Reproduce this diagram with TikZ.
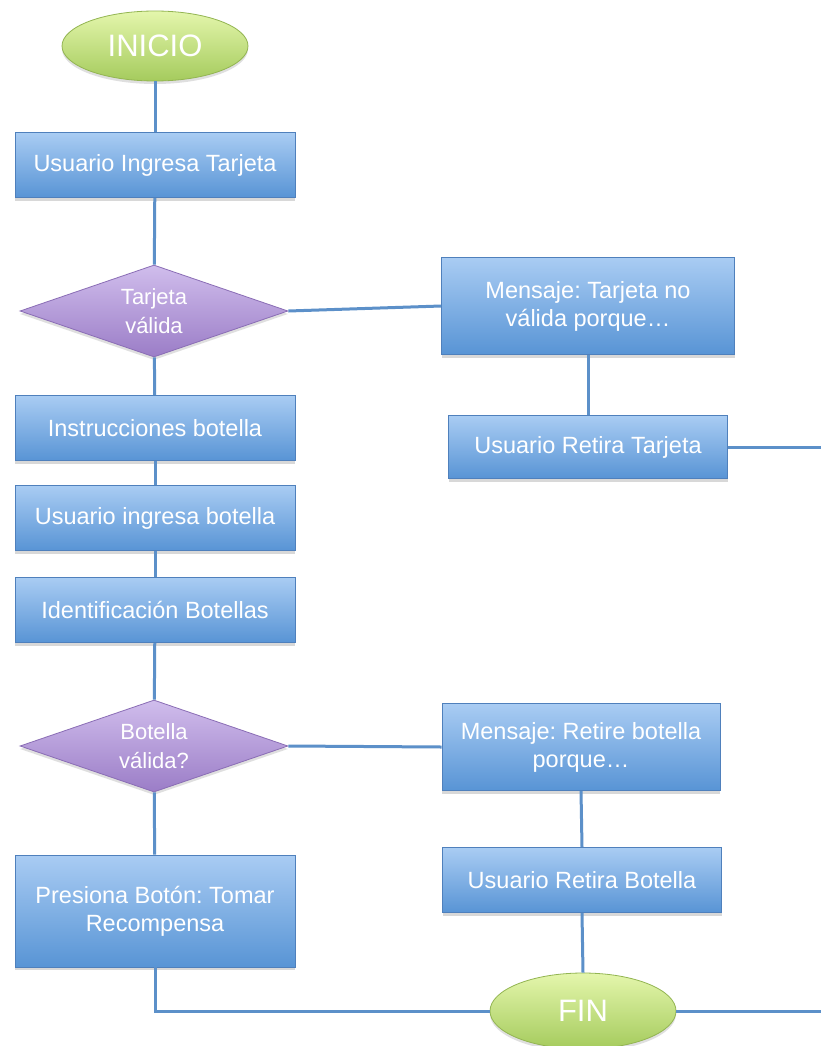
\documentclass[tikz,border=0pt]{standalone}
\usepackage{fontspec}
\setmainfont{Liberation Sans}
\usepackage{tikz}
\usetikzlibrary{shapes.geometric,shadows}
\usepackage{xcolor}
\definecolor{flowtop}{HTML}{A9CCF3}
\definecolor{flowbot}{HTML}{5894D5}
\definecolor{flowedge}{HTML}{4F80BC}
\definecolor{dectop}{HTML}{D0BDEC}
\definecolor{decbot}{HTML}{9B7DC7}
\definecolor{decedge}{HTML}{8A6DB5}
\definecolor{termtop}{HTML}{E4F6AC}
\definecolor{termbot}{HTML}{A5CB5D}
\definecolor{termedge}{HTML}{93B552}
\definecolor{linkblue}{HTML}{5C90C9}
\tikzset{
  flowbox/.style={
    rectangle,
    draw=flowedge,
    line width=0.8pt,
    top color=flowtop,
    bottom color=flowbot,
    minimum width=280pt,
    minimum height=65pt,
    inner sep=0pt,
    align=center,
    text=white,
    font=\fontsize{23.5}{28}\selectfont,
    drop shadow={shadow xshift=0pt,shadow yshift=-3pt,opacity=0.3}
  },
  decbox/.style={
    diamond,
    aspect=2.9,
    draw=decedge,
    line width=0.8pt,
    top color=dectop,
    bottom color=decbot,
    minimum width=268pt,
    minimum height=92pt,
    inner sep=0pt,
    align=center,
    text=white,
    font=\fontsize{22}{29}\selectfont,
    drop shadow={shadow xshift=0pt,shadow yshift=-3pt,opacity=0.25}
  },
  termbox/.style={
    ellipse,
    draw=termedge,
    line width=0.8pt,
    top color=termtop,
    bottom color=termbot,
    minimum width=186pt,
    minimum height=70pt,
    inner sep=0pt,
    text=white,
    font=\fontsize{31}{36}\selectfont,
    drop shadow={shadow xshift=0pt,shadow yshift=-3pt,opacity=0.25}
  },
  link/.style={
    draw=linkblue,
    line width=3pt
  }
}
\begin{document}
\frenchspacing
\begin{tikzpicture}[x=1pt,y=-1pt]
\useasboundingbox[fill=white] (0,0) rectangle (821,1046);
\node[termbox] (inicio) at (155,46) {INICIO};
\node[flowbox] (ingtarj) at (155,165) {Usuario Ingresa Tarjeta};
\node[decbox] (tarjval) at (154,311) {Tarjeta\\válida};
\node[flowbox] (instr) at (155,428) {Instrucciones botella};
\node[flowbox] (ingbot) at (155,518) {Usuario ingresa botella};
\node[flowbox] (ident) at (155,610) {Identificación Botellas};
\node[decbox] (botval) at (154,746) {Botella\\válida?};
\node[flowbox, minimum height=112pt] (presiona) at (155,911) {Presiona Botón: Tomar\\Recompensa};
\node[flowbox, minimum width=293pt, minimum height=97pt] (msgtarj) at (588,306) {Mensaje: Tarjeta no\\válida porque…};
\node[flowbox, minimum width=279pt, minimum height=63pt] (rettarj) at (588,447) {Usuario Retira Tarjeta};
\node[flowbox, minimum width=278pt, minimum height=87pt] (msgbot) at (581,747) {Mensaje: Retire botella\\porque…};
\node[flowbox, minimum width=279pt] (retbot) at (582,880) {Usuario Retira Botella};
\node[termbox, minimum height=76pt] (fin) at (583,1011) {FIN};
\coordinate (outtarj) at (821,447);
\coordinate (outfin) at (821,1011);
\draw[link] (inicio) -- (ingtarj);
\draw[link] (ingtarj) -- (tarjval);
\draw[link] (tarjval) -- (instr);
\draw[link] (instr) -- (ingbot);
\draw[link] (ingbot) -- (ident);
\draw[link] (ident) -- (botval);
\draw[link] (botval) -- (presiona);
\draw[link] (tarjval.east) -- (msgtarj.west);
\draw[link] (msgtarj) -- (rettarj);
\draw[link] (rettarj.east) -- (outtarj);
\draw[link] (botval.east) -- (msgbot.west);
\draw[link] (msgbot.south) -- (retbot.north);
\draw[link] (retbot.south) -- (fin.north);
\draw[link] (presiona.south) |- (fin.west);
\draw[link] (fin.east) -- (outfin);
\end{tikzpicture}
\end{document}
